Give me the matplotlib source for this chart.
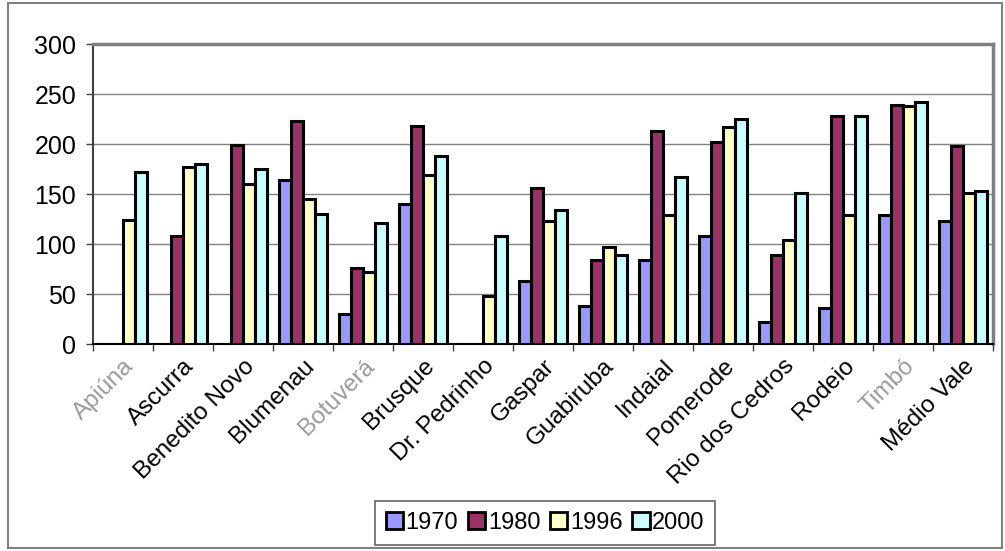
import numpy as np
import matplotlib.pyplot as plt
from matplotlib.patches import Rectangle

plt.rcParams['font.family'] = ['Liberation Sans', 'DejaVu Sans']

municipios = ['Apiúna', 'Ascurra', 'Benedito Novo', 'Blumenau', 'Botuverá',
              'Brusque', 'Dr. Pedrinho', 'Gaspar', 'Guabiruba', 'Indaial',
              'Pomerode', 'Rio dos Cedros', 'Rodeio', 'Timbó', 'Médio Vale']
anos = ['1970', '1980', '1996', '2000']
v1970 = [0, 0, 0, 164, 30, 140, 0, 63, 38, 84, 108, 22, 36, 129, 123]
v1980 = [0, 108, 199, 223, 76, 218, 0, 156, 84, 213, 202, 89, 228, 239, 198]
v1996 = [124, 177, 160, 145, 72, 169, 48, 123, 97, 129, 217, 104, 129, 238, 151]
v2000 = [172, 180, 175, 130, 121, 188, 108, 134, 89, 167, 225, 151, 228, 242, 153]
faded = ['Apiúna', 'Botuverá', 'Timbó']

cores = ['#9999FF', '#993366', '#FFFFCC', '#CCFFFF']
series = [v1970, v1980, v1996, v2000]

fig = plt.figure(figsize=(10.05, 5.51), dpi=100)
fig.patches.append(Rectangle((8 / 1005, 3 / 551), 994 / 1005, 545 / 551,
                             transform=fig.transFigure, fill=False,
                             edgecolor='#808080', lw=1.5))
ax = fig.add_axes([93 / 1005, 1 - 344 / 551, 900 / 1005, 300 / 551])

x = np.arange(len(municipios))
w = 0.2
for k, (vals, cor, ano) in enumerate(zip(series, cores, anos)):
    ax.bar(x + (k - 1.5) * w, vals, width=w, color=cor, edgecolor='black',
           linewidth=2.2, label=ano, zorder=3)

ax.set_xlim(-0.5, len(municipios) - 0.5)
ax.set_ylim(0, 300)
ax.set_yticks(np.arange(0, 301, 50))
ax.yaxis.grid(True, color='#808080', lw=1, zorder=0)
ax.tick_params(axis='y', labelsize=18, length=5, width=1, color='#404040', pad=7)

# category boundary ticks, labels at centres
ax.set_xticks(np.arange(-0.5, len(municipios)), minor=False)
ax.set_xticklabels([])
ax.set_xticks(x, minor=True)
ax.set_xticklabels(municipios, minor=True, rotation=45, ha='right',
                   va='top', rotation_mode='anchor', fontsize=17.5)
ax.tick_params(axis='x', which='major', length=5, width=1, color='#404040')
ax.tick_params(axis='x', which='minor', length=0, pad=8)
for lbl in ax.get_xticklabels(minor=True):
    if lbl.get_text() in faded:
        lbl.set_color('#9a9a9a')

for s in ['top', 'right']:
    ax.spines[s].set_color('#808080')
    ax.spines[s].set_linewidth(2.5)
ax.spines['left'].set_color('#404040')
ax.spines['left'].set_linewidth(1.5)
ax.spines['bottom'].set_color('black')
ax.spines['bottom'].set_linewidth(1.5)

leg = fig.legend(loc='center', bbox_to_anchor=(545 / 1005, 1 - 523 / 551),
                 ncol=4, fontsize=17, frameon=True, fancybox=False,
                 edgecolor='#404040', handlelength=0.75, handleheight=0.75,
                 handletextpad=0.1, columnspacing=0.4, borderpad=0.45)
leg.get_frame().set_linewidth(1.2)
for h in leg.legend_handles:
    h.set_linewidth(2)

fig.savefig('out.png', dpi=100)
